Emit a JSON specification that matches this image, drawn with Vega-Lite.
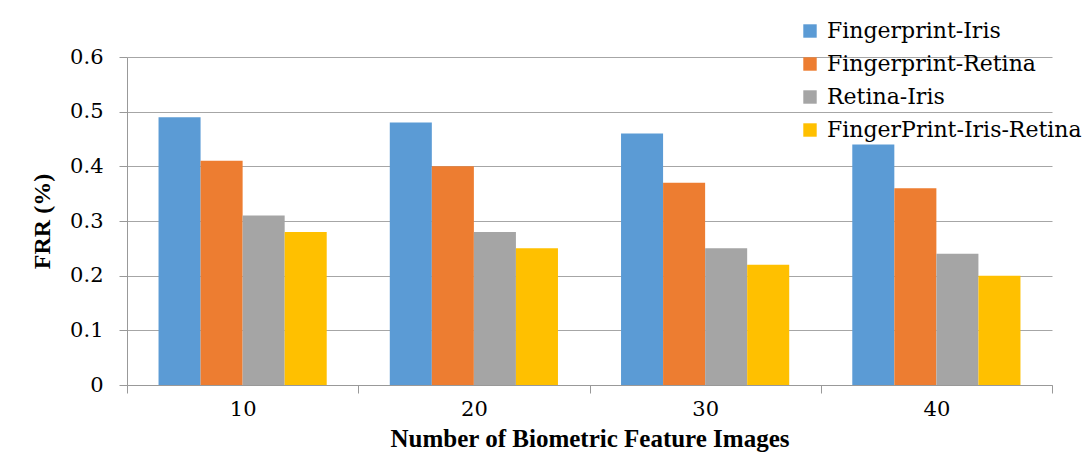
{
  "$schema": "https://vega.github.io/schema/vega-lite/v6.json",
  "autosize": {"type": "none"},
  "width": 925,
  "height": 328,
  "padding": {"left": 127, "top": 57, "right": 31, "bottom": 73},
  "background": "white",
  "config": {
    "view": {"stroke": null}
  },
  "data": {
    "values": [
      {"n": "10", "series": "Fingerprint-Iris", "frr": 0.49},
      {"n": "10", "series": "Fingerprint-Retina", "frr": 0.41},
      {"n": "10", "series": "Retina-Iris", "frr": 0.31},
      {"n": "10", "series": "FingerPrint-Iris-Retina", "frr": 0.28},
      {"n": "20", "series": "Fingerprint-Iris", "frr": 0.48},
      {"n": "20", "series": "Fingerprint-Retina", "frr": 0.40},
      {"n": "20", "series": "Retina-Iris", "frr": 0.28},
      {"n": "20", "series": "FingerPrint-Iris-Retina", "frr": 0.25},
      {"n": "30", "series": "Fingerprint-Iris", "frr": 0.46},
      {"n": "30", "series": "Fingerprint-Retina", "frr": 0.37},
      {"n": "30", "series": "Retina-Iris", "frr": 0.25},
      {"n": "30", "series": "FingerPrint-Iris-Retina", "frr": 0.22},
      {"n": "40", "series": "Fingerprint-Iris", "frr": 0.44},
      {"n": "40", "series": "Fingerprint-Retina", "frr": 0.36},
      {"n": "40", "series": "Retina-Iris", "frr": 0.24},
      {"n": "40", "series": "FingerPrint-Iris-Retina", "frr": 0.20}
    ]
  },
  "mark": {"type": "bar"},
  "encoding": {
    "x": {
      "field": "n", "type": "nominal", "sort": null,
      "scale": {"paddingInner": 0, "paddingOuter": 0},
      "axis": {
        "title": "Number of Biometric Feature Images",
        "titleFont": "Liberation Serif", "titleColor": "black",
        "titleFontSize": 25, "titleFontWeight": "bold", "titlePadding": 7,
        "labelFont": "DejaVu Serif", "labelColor": "black",
        "labelFontSize": 21, "labelAngle": 0, "labelPadding": 5,
        "tickBand": "extent", "tickSize": 8, "tickColor": "#999999", "domainColor": "#999999",
        "grid": false
      }
    },
    "xOffset": {
      "field": "series", "type": "nominal", "sort": ["Fingerprint-Iris", "Fingerprint-Retina", "Retina-Iris", "FingerPrint-Iris-Retina"],
      "scale": {"paddingInner": 0, "paddingOuter": 0.75}
    },
    "y": {
      "field": "frr", "type": "quantitative",
      "scale": {"domain": [0, 0.6], "nice": false},
      "axis": {
        "title": "FRR (%)", "titleFont": "Liberation Serif", "titleColor": "black",
        "titleFontSize": 24, "titleFontWeight": "bold", "titlePadding": 15,
        "values": [0, 0.1, 0.2, 0.3, 0.4, 0.5, 0.6], "format": ".1~f",
        "labelFont": "DejaVu Serif", "labelColor": "black",
        "labelFontSize": 21, "labelPadding": 16, "tickSize": 8,
        "tickColor": "#999999", "domainColor": "#999999", "gridColor": "#a6a6a6", "grid": true
      }
    },
    "color": {
      "field": "series", "type": "nominal",
      "sort": ["Fingerprint-Iris", "Fingerprint-Retina", "Retina-Iris", "FingerPrint-Iris-Retina"],
      "scale": {"domain": ["Fingerprint-Iris", "Fingerprint-Retina", "Retina-Iris", "FingerPrint-Iris-Retina"], "range": ["#5B9BD5", "#ED7D31", "#A5A5A5", "#FFC000"]},
      "legend": {
        "title": null, "orient": "none", "legendX": 672, "legendY": -37,
        "symbolType": "square", "symbolSize": 180, "symbolStrokeWidth": 0,
        "labelFontSize": 22, "labelFont": "DejaVu Serif", "labelColor": "black", "labelOffset": 6,
        "rowPadding": 11, "labelLimit": 400
      }
    }
  }
}
